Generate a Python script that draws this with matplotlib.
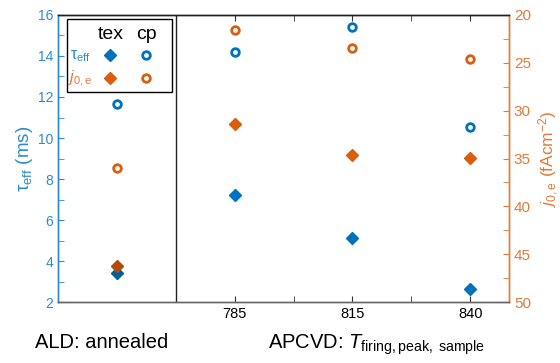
import matplotlib.pyplot as plt
from matplotlib.ticker import FixedLocator

# datos
x_labels = ["785", "815", "840"]
x_pos = [0, 1, 2, 3]  # 0 = ALD annealed, 1..3 = APCVD
tau_tex = [3.4, 7.2, 5.1, 2.65]
tau_cp = [11.65, 14.2, 15.4, 10.55]
j0_tex = [46.2, 31.4, 34.6, 34.9]
j0_cp = [36.0, 21.6, 23.4, 24.6]

BLUE = "#0072BD"
ORANGE = "#D95F0E"
BLUE_AX = "#2E8BCB"
ORANGE_AX = "#E07B39"
BLUE_D = "#005F9A"
ORANGE_D = "#B04C08"

plt.rcParams['font.family'] = ['Liberation Sans', 'DejaVu Sans']
plt.rcParams['mathtext.fontset'] = 'custom'
plt.rcParams['mathtext.rm'] = 'Liberation Sans'
plt.rcParams['mathtext.it'] = 'Liberation Sans:italic'
plt.rcParams['mathtext.bf'] = 'Liberation Sans:bold'

fig = plt.figure(figsize=(5.6, 3.63), dpi=100)
ax = fig.add_axes([0.1036, 0.168, 0.8054, 0.7907])
ax2 = ax.twinx()

# tau (eje izquierdo)
ax.plot(x_pos[1:], tau_tex[1:], 'D', color=BLUE, ms=6.5, mec=BLUE)
ax.plot(x_pos[:1], tau_tex[:1], 'D', color=BLUE_D, ms=6.5)
ax.plot(x_pos, tau_cp, 'o', mfc='white', mec=BLUE, mew=2, ms=5.5)

# j0e (eje derecho, invertido)
ax2.plot(x_pos[1:], j0_tex[1:], 'D', color=ORANGE, ms=6.5)
ax2.plot(x_pos[:1], j0_tex[:1], 'D', color=ORANGE_D, ms=6.5)
ax2.plot(x_pos, j0_cp, 'o', mfc='white', mec=ORANGE, mew=2, ms=5.5)

ax.set_xlim(-0.5, 3.33)
ax.set_ylim(2, 16)
ax2.set_ylim(50, 20)

ax.axvline(0.5, color='#222222', lw=1)

ax.set_xticks([1, 2, 3])
ax.set_xticklabels(x_labels, fontsize=10.5)
ax.xaxis.set_minor_locator(FixedLocator([1.5, 2.5]))
ax.set_yticks(range(2, 17, 2))
ax.yaxis.set_minor_locator(FixedLocator(range(3, 16, 2)))
ax2.set_yticks(range(20, 51, 5))
ax2.yaxis.set_minor_locator(FixedLocator([22.5, 27.5, 32.5, 37.5, 42.5, 47.5]))

ax.tick_params(axis='x', which='both', direction='in', top=True, length=4, colors='#333333', labelcolor='black')
ax.tick_params(axis='y', which='both', direction='in', colors=BLUE_AX, labelsize=10, length=4)
ax2.tick_params(axis='y', which='both', direction='in', colors=ORANGE_AX, labelsize=11, length=4)

for a in (ax, ax2):
    a.spines['left'].set_color(BLUE_AX)
    a.spines['right'].set_color(ORANGE_AX)
    a.spines['top'].set_color('#222222')
    a.spines['bottom'].set_color('#666666')
    for s in a.spines.values():
        s.set_linewidth(1)

ax.set_ylabel(r"τ$_{\mathrm{eff}}$ (ms)", color=BLUE_AX, fontsize=13.5, labelpad=2)
ax2.set_ylabel(r"$j_{\mathrm{0,e}}$ (fAcm$^{\mathrm{-2}}$)", color=ORANGE_AX, fontsize=12.5, labelpad=4)

# etiquetas bajo el eje x
fig.text(0.063, 0.04, "ALD: annealed", fontsize=14.5)
fig.text(0.478, 0.04, r"APCVD: $T_{\mathrm{firing,peak,\ sample}}$", fontsize=14.5)

# leyenda hecha a mano
ax.add_patch(plt.Rectangle((-0.425, 12.25), 0.895, 3.55, fill=False, ec='black', lw=1, zorder=5))
ax.text(-0.05, 15.05, "tex", fontsize=14, ha='center', va='center')
ax.text(0.25, 15.05, "cp", fontsize=14, ha='center', va='center')
ax.text(-0.31, 14.0, r"τ$_{\mathrm{eff}}$", color=BLUE_AX, fontsize=11.5, ha='center', va='center')
ax.text(-0.31, 12.9, r"$j_{\mathrm{0,e}}$", color=ORANGE_AX, fontsize=11.5, ha='center', va='center')
ax.plot([-0.06], [14.05], 'D', color=BLUE, ms=6.5)
ax.plot([0.25], [14.05], 'o', mfc='white', mec=BLUE, mew=2, ms=5.5)
ax.plot([-0.06], [12.95], 'D', color=ORANGE, ms=6.5)
ax.plot([0.25], [12.95], 'o', mfc='white', mec=ORANGE, mew=2, ms=5.5)

plt.savefig("out.png", dpi=100)
plt.close()
